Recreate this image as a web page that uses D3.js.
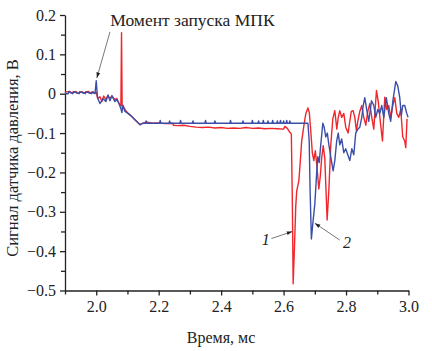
<!DOCTYPE html>
<html>
<head>
<meta charset="utf-8">
<script src="https://cdn.jsdelivr.net/npm/d3@7"></script>
<style>
  body { margin: 0; background: #fff; }
  .canvas { width: 432px; height: 351px; }
  .axis path, .axis line { stroke: #222; stroke-width: 1.3; }
</style>
</head>
<body>
<div class="canvas"></div>
<script>
// time, ms
const redT = [1.90, 1.915, 1.92, 1.935, 1.94, 1.955, 1.96, 1.975, 1.98, 1.99, 1.995, 2.0,
  2.005, 2.012, 2.018, 2.024, 2.031, 2.037, 2.044, 2.05, 2.06, 2.066, 2.073, 2.079,
  2.081, 2.083, 2.085, 2.092, 2.102, 2.114, 2.124, 2.134, 2.14, 2.159, 2.18, 2.2,
  2.22, 2.245, 2.247, 2.26, 2.28, 2.3, 2.32, 2.34, 2.36, 2.38, 2.4, 2.42, 2.44,
  2.46, 2.48, 2.5, 2.52, 2.54, 2.56, 2.58, 2.6, 2.604, 2.612, 2.62, 2.6248, 2.628,
  2.6306, 2.6344, 2.639, 2.642, 2.649, 2.6536, 2.658, 2.665, 2.671, 2.678, 2.6824,
  2.687, 2.692, 2.6968, 2.7016, 2.706, 2.7128, 2.7176, 2.722, 2.727, 2.732, 2.7394,
  2.7448, 2.751, 2.7576, 2.764, 2.7704, 2.775, 2.78, 2.786, 2.7928, 2.799, 2.8066,
  2.812, 2.8168, 2.8226, 2.828, 2.8334, 2.8376, 2.844, 2.8504, 2.8568, 2.8632, 2.8696,
  2.876, 2.8824, 2.8888, 2.8974, 2.9032, 2.9096, 2.9166, 2.924, 2.9304, 2.9368,
  2.9432, 2.9496, 2.956, 2.9624, 2.9688, 2.9752, 2.9816, 2.988, 2.9912, 2.9954];
// signal, V
const redV = [0.004, 0.006, 0.002, 0.006, 0.001, 0.005, 0.002, 0.006, 0.002, 0.005, 0.001, 0.004,
  -0.012, -0.008, -0.02, -0.006, -0.015, -0.005, -0.012, -0.006, -0.015, -0.012, -0.025, -0.03,
  0.155, -0.035, -0.03, -0.04, -0.05, -0.058, -0.066, -0.074, -0.078, -0.072, -0.075, -0.074,
  -0.076, -0.075, -0.08, -0.081, -0.08, -0.083, -0.085, -0.086, -0.085, -0.087, -0.086, -0.088,
  -0.087, -0.088, -0.086, -0.088, -0.087, -0.089, -0.088, -0.089, -0.09, -0.083, -0.088, -0.098, -0.102, -0.272,
  -0.483, -0.399, -0.285, -0.247, -0.221, -0.17, -0.12, -0.081, -0.051, -0.036, -0.048,
  -0.094, -0.15, -0.17, -0.145, -0.178, -0.242, -0.209, -0.163, -0.132, -0.165, -0.321,
  -0.247, -0.132, -0.064, -0.043, -0.09, -0.06, -0.043, -0.06, -0.05, -0.085, -0.1,
  -0.07, -0.045, -0.043, -0.06, -0.095, -0.07, -0.045, -0.03, -0.06, -0.08, -0.045,
  -0.025, -0.06, -0.09, 0.008, -0.02, -0.07, -0.12, -0.009, -0.04, -0.03,
  -0.06, -0.03, -0.01, -0.05, -0.06, -0.04, -0.11, -0.12, -0.137, -0.064];

const blueT = [1.90, 1.91, 1.912, 1.925, 1.927, 1.945, 1.947, 1.965, 1.967, 1.985, 1.987, 1.996, 2.0,
  2.004, 2.012, 2.0216, 2.031, 2.0376, 2.044, 2.05, 2.06, 2.0664, 2.0728, 2.079, 2.082,
  2.0856, 2.092, 2.102, 2.114, 2.124, 2.134, 2.14, 2.15, 2.158, 2.16, 2.162,
  2.203, 2.205, 2.207, 2.233, 2.235, 2.237, 2.268, 2.27, 2.272, 2.308, 2.31, 2.312,
  2.348, 2.35, 2.352, 2.378, 2.38, 2.382, 2.428, 2.43, 2.432, 2.468, 2.47, 2.472,
  2.498, 2.5, 2.502, 2.518, 2.52, 2.522, 2.533, 2.535, 2.537, 2.548, 2.55, 2.552,
  2.563, 2.565, 2.567, 2.578, 2.58, 2.582, 2.588, 2.59, 2.592, 2.598, 2.6, 2.602,
  2.608, 2.61, 2.612, 2.618, 2.62, 2.622, 2.678, 2.682, 2.685, 2.689, 2.6936, 2.7, 2.706, 2.7096,
  2.714, 2.719, 2.7256, 2.73, 2.735, 2.74, 2.745, 2.751, 2.7586, 2.764, 2.77, 2.775,
  2.78, 2.786, 2.7928, 2.799, 2.8056, 2.812, 2.8184, 2.8248, 2.831, 2.8376, 2.844,
  2.8504, 2.855, 2.86, 2.866, 2.8728, 2.8814, 2.889, 2.8952, 2.9016, 2.908, 2.9144,
  2.9208, 2.929, 2.9368, 2.943, 2.9496, 2.9592, 2.9656, 2.972, 2.977, 2.9816, 2.988,
  2.9944, 2.9986];
const blueV = [0.0, 0.0, 0.005, 0.0, 0.005, 0.0, 0.005, 0.0, 0.005, 0.0, 0.004, 0.0, 0.033,
  -0.01, -0.025, -0.013, -0.02, -0.003, -0.018, -0.005, -0.02, -0.015, -0.025, -0.038, -0.048,
  -0.03, -0.045, -0.05, -0.058, -0.066, -0.074, -0.079, -0.075, -0.075, -0.069, -0.075,
  -0.075, -0.068, -0.075, -0.075, -0.069, -0.075, -0.075, -0.068, -0.075, -0.075, -0.069, -0.075,
  -0.075, -0.068, -0.075, -0.075, -0.069, -0.075, -0.075, -0.068, -0.075, -0.075, -0.069, -0.075,
  -0.075, -0.068, -0.075, -0.075, -0.069, -0.075, -0.075, -0.068, -0.075, -0.075, -0.069, -0.075,
  -0.075, -0.068, -0.075, -0.075, -0.069, -0.075, -0.075, -0.068, -0.075, -0.075, -0.069, -0.075,
  -0.075, -0.068, -0.075, -0.075, -0.069, -0.075, -0.075, -0.12, -0.25, -0.369, -0.33, -0.28, -0.2, -0.16,
  -0.175, -0.13, -0.075, -0.085, -0.11, -0.1, -0.13, -0.16, -0.196, -0.17, -0.12, -0.1,
  -0.13, -0.115, -0.15, -0.14, -0.155, -0.17, -0.14, -0.155, -0.1, -0.09, -0.085,
  -0.06, -0.03, -0.01, -0.04, -0.07, -0.018, -0.03, -0.06, -0.04, -0.05, -0.03,
  -0.06, -0.01, -0.05, -0.07, -0.02, 0.031, 0.02, -0.01, -0.055, -0.03, -0.03,
  -0.05, -0.06];

const yMajor = [0.2, 0.1, 0, -0.1, -0.2, -0.3, -0.4, -0.5];
const yMinor = [0.15, 0.05, -0.05, -0.15, -0.25, -0.35, -0.45];
const xMajor = [2.0, 2.2, 2.4, 2.6, 2.8, 3.0];
const xMinor = [1.9, 2.1, 2.3, 2.5, 2.7, 2.9];

const serif = '"Liberation Serif", "Times New Roman", "DejaVu Serif", serif';

const canvas = document.querySelector(".canvas");
const margin = { top: 15, right: 23.5, bottom: 60.5, left: 65 };
const width = canvas.offsetWidth - margin.left - margin.right;
const height = canvas.offsetHeight - margin.top - margin.bottom;

const x = d3.scaleLinear().domain([1.9, 3.0]).range([0, width]);
const y = d3.scaleLinear().domain([-0.5, 0.2]).range([height, 0]);
const fmt = (d) => (d === 0 ? "0" : d3.format(".1f")(d).replace("-", "\u2212"));

const svg = d3.select(".canvas").append("svg")
  .attr("width", canvas.offsetWidth)
  .attr("height", canvas.offsetHeight);

const chart = svg.append("g").attr("transform", `translate(${margin.left}, ${margin.top})`);

// minor ticks first
chart.append("g").attr("class", "axis")
  .call(d3.axisLeft(y).tickValues(yMinor).tickSize(4).tickSizeOuter(0).tickFormat(""))
  .select(".domain").remove();
chart.append("g").attr("class", "axis")
  .attr("transform", `translate(0, ${height})`)
  .call(d3.axisBottom(x).tickValues(xMinor).tickSize(4).tickSizeOuter(0).tickFormat(""))
  .select(".domain").remove();

const yAxis = chart.append("g").attr("class", "axis")
  .call(d3.axisLeft(y).tickValues(yMajor).tickSize(5).tickSizeOuter(0).tickFormat(fmt));
const xAxis = chart.append("g").attr("class", "axis")
  .attr("transform", `translate(0, ${height})`)
  .call(d3.axisBottom(x).tickValues(xMajor).tickSize(5).tickSizeOuter(0).tickFormat(d3.format(".1f")));
svg.selectAll(".axis").attr("font-family", serif).attr("font-size", 16);
svg.selectAll(".axis text").attr("fill", "#222");
yAxis.selectAll("text").attr("x", -9);
xAxis.selectAll("text").attr("y", 10);

const line = d3.line().x((d) => x(d[0])).y((d) => y(d[1]));

chart.append("path")
  .datum(redT.map((t, i) => [t, redV[i]]))
  .attr("d", line)
  .attr("fill", "none")
  .attr("stroke", "#f0262b")
  .attr("stroke-width", 1.4)
  .attr("stroke-linejoin", "round");

chart.append("path")
  .datum(blueT.map((t, i) => [t, blueV[i]]))
  .attr("d", line)
  .attr("fill", "none")
  .attr("stroke", "#3b4ea8")
  .attr("stroke-width", 1.4)
  .attr("stroke-linejoin", "round");

// arrow markers
svg.append("defs").append("marker")
  .attr("id", "head")
  .attr("viewBox", "0 0 10 10")
  .attr("refX", 10).attr("refY", 5)
  .attr("markerWidth", 7).attr("markerHeight", 7)
  .attr("orient", "auto")
  .append("path").attr("d", "M0,1.5 L10,5 L0,8.5 Z").attr("fill", "#222");

function arrow(x1, y1, x2, y2) {
  chart.append("line")
    .attr("x1", x(x1)).attr("y1", y(y1))
    .attr("x2", x(x2)).attr("y2", y(y2))
    .attr("stroke", "#555").attr("stroke-width", 0.8)
    .attr("marker-end", "url(#head)");
}

arrow(2.044, 0.157, 2.002, 0.04);
arrow(2.561, -0.368, 2.628, -0.35);
arrow(2.78, -0.372, 2.70, -0.329);

const note = (txt, tx, ty, size, italic) => chart.append("text").text(txt)
  .attr("x", x(tx)).attr("y", y(ty))
  .attr("font-family", serif)
  .attr("font-size", size)
  .attr("font-style", italic ? "italic" : "normal")
  .attr("fill", "#222");

note("Момент запуска МПК", 2.045, 0.172, 17.5, false);
note("1", 2.53, -0.385, 16, true);
note("2", 2.79, -0.393, 16, true);

svg.append("text").text("Сигнал датчика давления, В")
  .attr("transform", "translate(18, 158) rotate(-90)")
  .attr("text-anchor", "middle")
  .attr("font-family", serif)
  .attr("font-size", 16.5)
  .attr("fill", "#222");

svg.append("text").text("Время, мс")
  .attr("x", 221)
  .attr("y", 343)
  .attr("text-anchor", "middle")
  .attr("font-family", serif)
  .attr("font-size", 16)
  .attr("fill", "#222");
</script>
</body>
</html>
